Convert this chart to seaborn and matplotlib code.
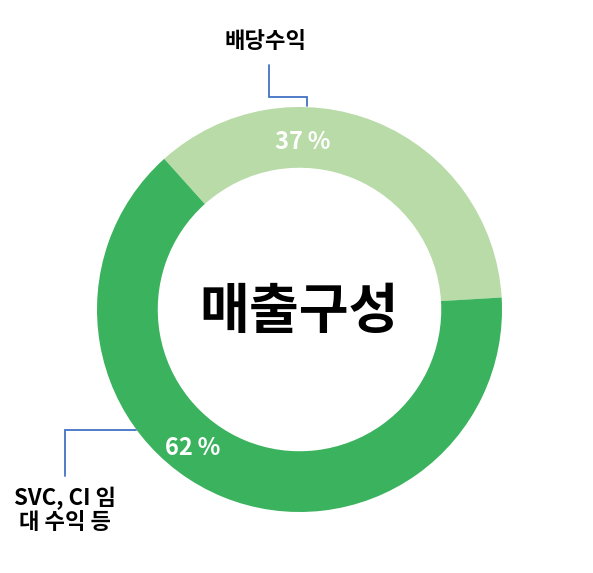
import numpy as np
import matplotlib.pyplot as plt
import seaborn as sns

categories = ["배당수익", "SVC, CI 임\n대 수익 등"]
shares = [35.7, 64.3]          # wedge sizes as drawn
pct_labels = ["37%", "62%"]    # labels as printed
colors = ["#b8dba8", "#3bb25d"]

sns.set_theme(style="white")
plt.rcParams['font.family'] = ['Noto Sans CJK KR', 'DejaVu Sans']

W, H = 593, 573
fig = plt.figure(figsize=(W / 100, H / 100), dpi=100)
ax = fig.add_axes([0, 0, 1, 1])

cx, cy = 299.5, H - 309.5
R = 202.5
ax.pie(shares, colors=colors, startangle=3.4, counterclock=True,
       center=(cx, cy), radius=R, frame=True,
       wedgeprops=dict(width=R * 0.30, linewidth=0))
ax.set_xlim(0, W)
ax.set_ylim(0, H)
ax.set_aspect('equal')
ax.axis('off')

# percentage labels (moved by hand in the original)
lab_pos = [(89.0, 168), (232.2, 175)]
for txt, (ang, rr) in zip(pct_labels, lab_pos):
    a = np.deg2rad(ang)
    ax.text(cx + rr * np.cos(a), cy + rr * np.sin(a),
            txt.replace("%", "\u2009%"),
            color="white", fontsize=17, fontweight="bold",
            ha="center", va="center")

ax.text(cx, cy - 3, "매출구성", fontsize=39, fontweight="bold",
        ha="center", va="center", color="black")

# leader lines
line_c = "#4472c4"
ax.plot([307, 307, 269, 269], [H - 106, H - 97, H - 97, H - 65],
        color=line_c, lw=1.3, solid_joinstyle='miter')
ax.plot([136, 65, 65], [H - 430, H - 430, H - 476],
        color=line_c, lw=1.3, solid_joinstyle='miter')

ax.text(266, H - 42, categories[0], fontsize=16, fontweight="bold",
        ha="center", va="center", color="black")
ax.text(65, H - 510, categories[1], fontsize=16, fontweight="bold",
        ha="center", va="center", color="black", linespacing=1.05)

fig.savefig("out.png", dpi=100)
